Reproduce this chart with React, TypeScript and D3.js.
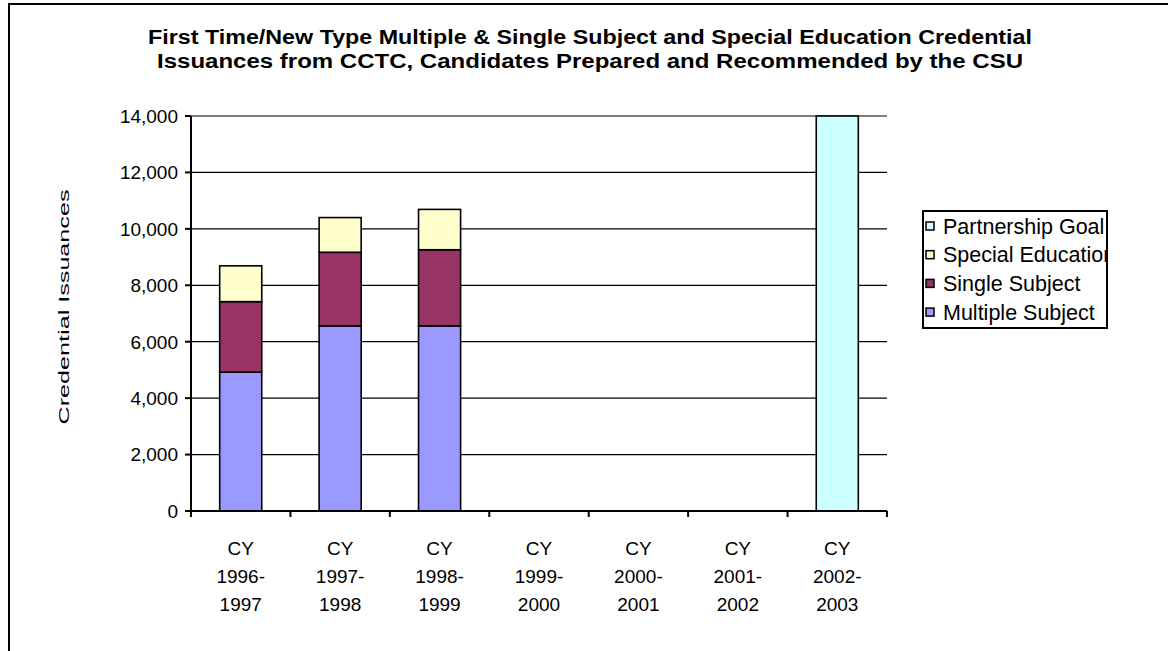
import React from "react";
import * as d3 from "d3";

const categories = ["CY 1996-1997", "CY 1997-1998", "CY 1998-1999", "CY 1999-2000", "CY 2000-2001", "CY 2001-2002", "CY 2002-2003"];
const multipleSubject = [4920, 6560, 6560, 0, 0, 0, 0];
const singleSubject = [2500, 2610, 2700, 0, 0, 0, 0];
const specialEducation = [1270, 1230, 1430, 0, 0, 0, 0];
const partnershipGoal = [0, 0, 0, 0, 0, 0, 14000];
const yTicks = [0, 2000, 4000, 6000, 8000, 10000, 12000, 14000];
const seriesNames = ["Multiple Subject", "Single Subject", "Special Education", "Partnership Goal"];
const seriesColors = ["#9999FF", "#993366", "#FFFFCC", "#CCFFFF"];
const titleLines = [
  "First Time/New Type Multiple & Single Subject and Special Education Credential",
  "Issuances from CCTC, Candidates Prepared and Recommended by the CSU",
];
const yAxisTitle = "Credential Issuances";

const W = 1168;
const H = 651;
const plot = { left: 191, right: 887, top: 116, bottom: 511 };
const FONT = "'Liberation Sans', Arial, sans-serif";

export default function App() {
  const x = d3
    .scaleBand<string>()
    .domain(categories)
    .range([plot.left, plot.right])
    .paddingInner(0.577)
    .paddingOuter(0.2885);
  const y = d3.scaleLinear().domain([0, 14000]).range([plot.bottom, plot.top]);

  const rows = categories.map((c, i) => ({
    cat: c,
    s0: multipleSubject[i],
    s1: singleSubject[i],
    s2: specialEducation[i],
    s3: partnershipGoal[i],
  }));
  const stack = d3.stack<any>().keys(["s0", "s1", "s2", "s3"]);
  const layers = stack(rows);

  const step = x.step();
  const fmt = d3.format(",");

  const legendItems = [3, 2, 1, 0];

  return (
    <svg
      width={W}
      height={H}
      style={{ position: "absolute", left: 0, top: 0, background: "#fff" }}
      fontFamily={FONT}
    >
      <rect x={0} y={0} width={W} height={H} fill="#fff" />
      {/* outer chart border (extends beyond view) */}
      <path d={`M9,${H + 5} V4 H${W + 5}`} fill="none" stroke="#000" strokeWidth={2} />

      {/* title */}
      <text x={590} y={44} textAnchor="middle" fontWeight="bold" fontSize={19.5} textLength={884} lengthAdjust="spacingAndGlyphs">
        {titleLines[0]}
      </text>
      <text x={590} y={68} textAnchor="middle" fontWeight="bold" fontSize={19.5} textLength={866} lengthAdjust="spacingAndGlyphs">
        {titleLines[1]}
      </text>

      {/* gridlines */}
      {yTicks.map((t) => (
        <line key={"g" + t} x1={plot.left} x2={plot.right} y1={y(t)} y2={y(t)} stroke="#000" strokeWidth={1.2} />
      ))}

      {/* bars */}
      {layers.map((layer, li) =>
        layer.map((d, i) => {
          const h = y(d[0]) - y(d[1]);
          if (h <= 0) return null;
          return (
            <rect
              key={li + "-" + i}
              x={x(categories[i])!}
              y={y(d[1])}
              width={x.bandwidth()}
              height={h}
              fill={seriesColors[li]}
              stroke="#000"
              strokeWidth={1.6}
            />
          );
        })
      )}

      {/* y axis */}
      <line x1={plot.left} x2={plot.left} y1={plot.top} y2={plot.bottom} stroke="#000" strokeWidth={2} />
      {yTicks.map((t) => (
        <g key={"yt" + t}>
          <line x1={plot.left - 6} x2={plot.left} y1={y(t)} y2={y(t)} stroke="#000" strokeWidth={2} />
          <text x={178} y={y(t)} dy="0.36em" textAnchor="end" fontSize={19}>
            {fmt(t)}
          </text>
        </g>
      ))}

      {/* x axis */}
      <line x1={plot.left} x2={plot.right} y1={plot.bottom} y2={plot.bottom} stroke="#000" strokeWidth={2} />
      {categories.map((c, i) => (
        <line key={"xt" + i} x1={plot.left + step * (i + 1)} x2={plot.left + step * (i + 1)} y1={plot.bottom} y2={plot.bottom + 6} stroke="#000" strokeWidth={2} />
      ))}
      <line x1={plot.left} x2={plot.left} y1={plot.bottom} y2={plot.bottom + 6} stroke="#000" strokeWidth={2} />
      {categories.map((c) => {
        const cx = x(c)! + x.bandwidth() / 2;
        const parts = c.split(" ");
        const yrs = parts[1].split("-");
        const lines = [parts[0], yrs[0] + "-", yrs[1]];
        return (
          <g key={"xl" + c}>
            {lines.map((l, k) => (
              <text key={k} x={cx} y={555 + k * 28} textAnchor="middle" fontSize={19}>
                {l}
              </text>
            ))}
          </g>
        );
      })}

      {/* y axis title */}
      <text
        transform={`translate(69,307) rotate(-90)`}
        textAnchor="middle"
        fontSize={15}
        textLength={235}
        lengthAdjust="spacingAndGlyphs"
      >
        {yAxisTitle}
      </text>

      {/* legend */}
      <svg x={922} y={210} width={186} height={119} overflow="hidden">
        <rect x={1} y={1} width={184} height={117} fill="#fff" stroke="#000" strokeWidth={2} />
        {legendItems.map((si, k) => (
          <g key={"lg" + si}>
            <rect x={4} y={12 + k * 28.7} width={8} height={8} fill={seriesColors[si]} stroke="#000" strokeWidth={1.5} />
            <text x={21} y={16 + k * 28.7} dy="0.36em" fontSize={21.5}>
              {seriesNames[si]}
            </text>
          </g>
        ))}
      </svg>
    </svg>
  );
}
